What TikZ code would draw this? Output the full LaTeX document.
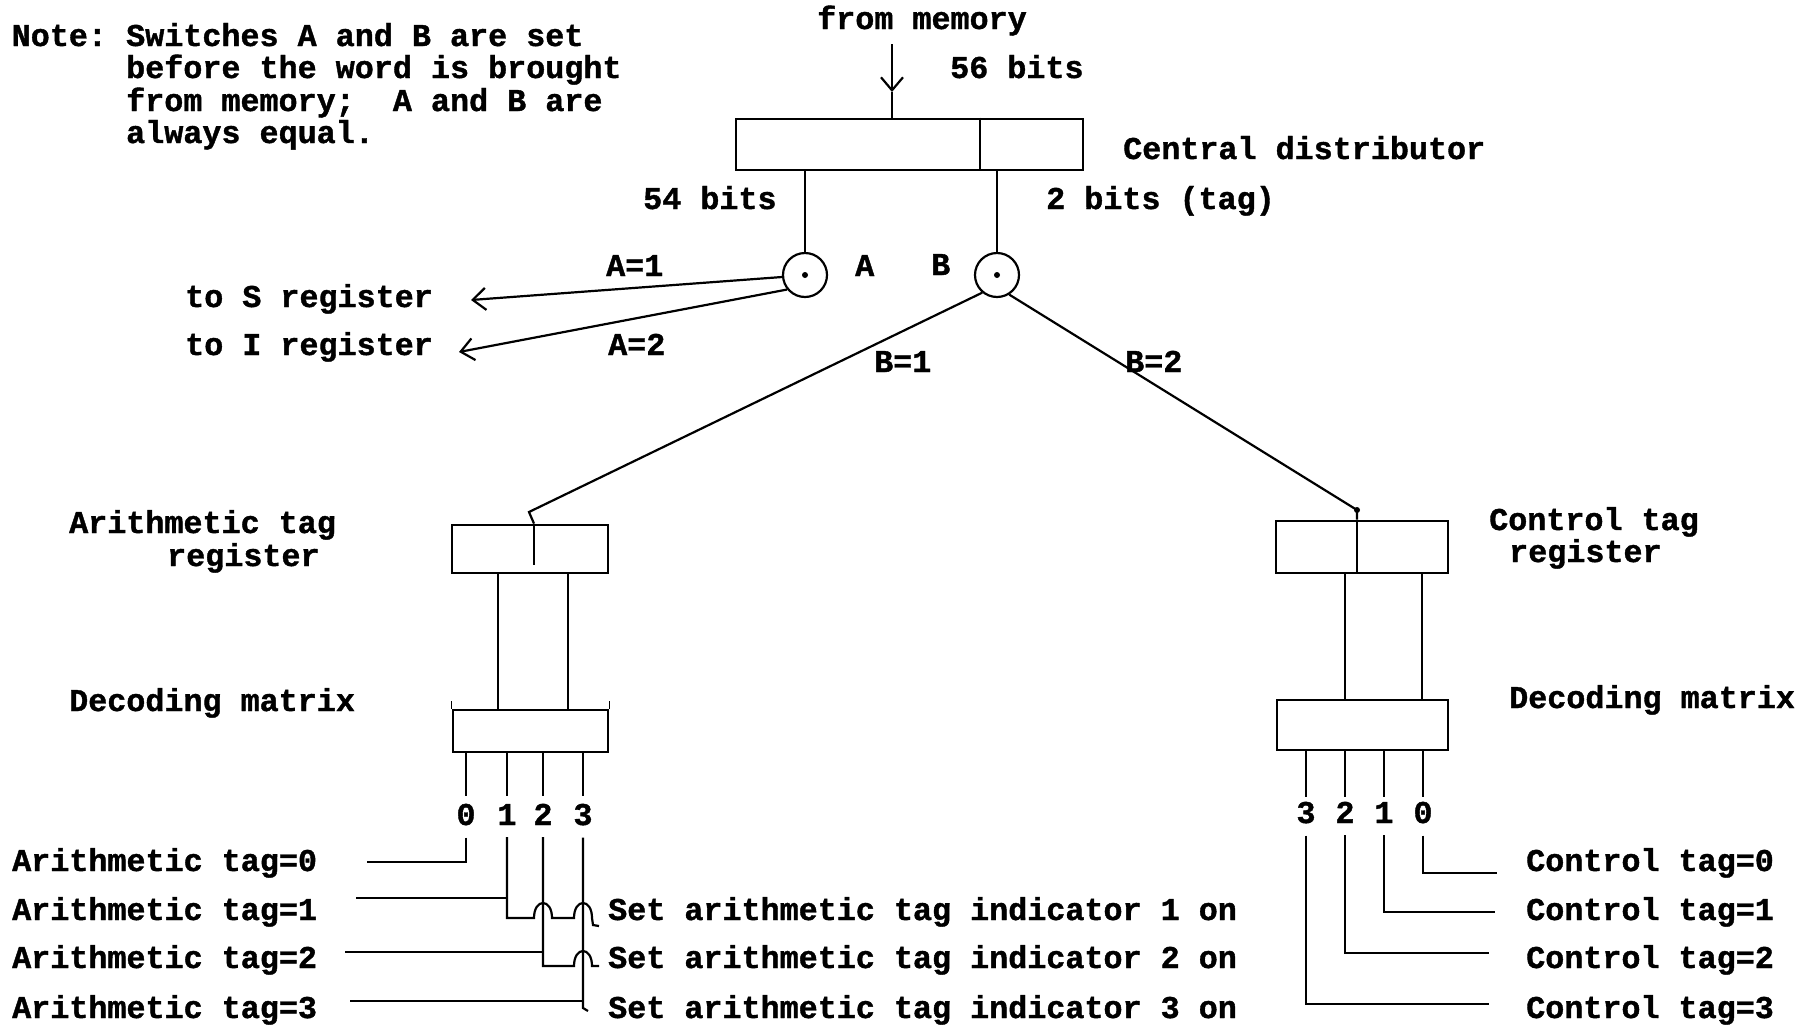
\documentclass[tikz,border=0pt]{standalone}
\usepackage{fontspec}
\newfontfamily\tw{Liberation Mono Bold}[FakeBold=1.2]
\usetikzlibrary{arrows.meta}
\begin{document}
\frenchspacing
\begin{tikzpicture}[x=1pt,y=-1pt,
  lbl/.style={anchor=base west, inner sep=0pt, font={\tw\fontsize{31.75}{34}\selectfont}},
  dig/.style={anchor=base, inner sep=0pt, font={\tw\fontsize{31.75}{34}\selectfont}},
  regbox/.style={draw, rectangle, inner sep=0pt, line width=2.8pt},
  sw/.style={draw, circle, inner sep=0pt, minimum size=44pt, line width=2.2pt},
  wire/.style={line width=2.2pt},
  arr/.style={line width=2.2pt, -{Straight Barb[length=13pt,width=22pt,line width=2.2pt]}}
]
\useasboundingbox (0,0) rectangle (1810,1026);
\fill[white] (0,0) rectangle (1810,1026);

% ---- note
\node[lbl] (n1) at (11.5,46) {Note:};
\node[lbl] (n2) at (126,46) {Switches A and B are set};
\node[lbl] (n3) at (126,78) {before the word is brought};
\node[lbl] (n4) at (126,111) {from memory;~~A and B are};
\node[lbl] (n5) at (126,143) {always equal.};

% ---- central distributor
\node[lbl] (fmt) at (817,29) {from memory};
\node[lbl] (b56) at (950,78) {56 bits};
\node[regbox, minimum width=347pt, minimum height=51pt] (cd) at (909.5,144.5) {};
\coordinate (cdiv) at (980,0);
\draw[line width=2.2pt] (cdiv |- cd.north) -- (cdiv |- cd.south);
\node[lbl] (cdl) at (1123,159) {Central distributor};
\coordinate (fm) at (892,44);
\coordinate (fa) at (892,92);
\draw[arr] (fm) -- (fa);
\draw[wire] (fa) -- (fa |- cd.north);

\node[lbl] (b54) at (643,209) {54 bits};
\node[lbl] (b2) at (1046,209) {2 bits (tag)};

% ---- switches
\node[sw] (A) at (805,275) {};
\node[sw] (B) at (997,275) {};
\fill (A) circle[radius=3pt];
\fill (B) circle[radius=3pt];
\draw[wire] (cd.south -| A) -- (A.north);
\draw[wire] (cd.south -| B) -- (B.north);
\node[lbl] (la) at (855,276) {A};
\node[lbl] (lb) at (931,275) {B};
\node[lbl] (a1l) at (606,276) {A=1};
\node[lbl] (a2l) at (608,355) {A=2};
\node[lbl] (tos) at (185,307) {to S register};
\node[lbl] (toi) at (185,355) {to I register};
\coordinate (sa) at (471,300);
\coordinate (ia) at (459,352);
\draw[arr] (A.185) -- (sa);
\draw[arr] (A.219) -- (ia);

\node[lbl] (b1l) at (874,372) {B=1};
\node[lbl] (b2l) at (1125,372) {B=2};

% ---- arithmetic side
\node[regbox, minimum width=156pt, minimum height=48pt] (AR) at (530,549) {};
\coordinate (adiv) at (534,0);
\draw[line width=2.2pt] (adiv |- AR.north) -- (534,565);
\node[lbl] (arl1) at (69,533) {Arithmetic tag};
\node[lbl] (arl2) at (167,566) {register};
\coordinate (bt1) at (529,512);
\draw[wire] (B.230) -- (bt1) -- (adiv |- AR.north);

\node[regbox, minimum width=155pt, minimum height=42pt] (AM) at (530.5,731) {};
\node[lbl] (aml) at (69,711) {Decoding matrix};
\draw[wire] (AR.south -| 498,0) -- (AM.north -| 498,0);
\draw[wire] (AR.south -| 568,0) -- (AM.north -| 568,0);
\draw[line width=1.6pt] (AM.north west) -- ++(0,-8);
\draw[line width=1.6pt] (AM.north east) -- ++(0,-8);

\node[dig] (a0) at (466,825) {0};
\node[dig] (a1) at (507,825) {1};
\node[dig] (a2) at (543,825) {2};
\node[dig] (a3) at (583,825) {3};
\foreach \x in {466,507,543,583}
  \draw[wire] (AM.south -| \x,0) -- (\x,796);

\node[lbl] (at0) at (12,871) {Arithmetic tag=0};
\node[lbl] (at1) at (12,920) {Arithmetic tag=1};
\node[lbl] (at2) at (12,968) {Arithmetic tag=2};
\node[lbl] (at3) at (12,1018) {Arithmetic tag=3};
\node[lbl] (s1) at (608,920) {Set arithmetic tag indicator 1 on};
\node[lbl] (s2) at (608,968) {Set arithmetic tag indicator 2 on};
\node[lbl] (s3) at (608,1018) {Set arithmetic tag indicator 3 on};

\coordinate (r0) at (367,862);
\coordinate (r1) at (356,898);
\coordinate (r2) at (345,952);
\coordinate (r3) at (350,1001);
\draw[wire] ([yshift=-12pt]a0.south) |- (r0);
\draw[wire] ([yshift=-12pt]a1.south) -- (507,918) -- (534,918)
   .. controls (534,898) and (552,898) .. (552,918) -- (574,918)
   .. controls (574,898) and (592,898) .. (592,918) -- (593,925) -- (599,926);
\draw[wire] (r1) -- (507,898);
\draw[wire] ([yshift=-12pt]a2.south) -- (543,966) -- (574,966)
   .. controls (574,946) and (592,946) .. (592,966) -- (599,966);
\draw[wire] (r2) -- (543,952);
\draw[wire] ([yshift=-12pt]a3.south) -- (583,1008) -- (588,1011);
\draw[wire] (r3) -- (583,1001);

% ---- control side
\node[regbox, minimum width=172pt, minimum height=52pt] (CR) at (1362,547) {};
\coordinate (cdv) at (1357,0);
\draw[line width=2.2pt] (cdv |- CR.north) -- (cdv |- CR.south);
\node[lbl] (crl1) at (1489,530) {Control tag};
\node[lbl] (crl2) at (1509,562) {register};
\coordinate (bt2) at (1357,510);
\draw[wire] (B.302) -- (bt2) -- (cdv |- CR.north);
\fill (bt2) circle[radius=3pt];

\node[regbox, minimum width=171pt, minimum height=50pt] (CM) at (1362.5,725) {};
\node[lbl] (cml) at (1509,708) {Decoding matrix};
\draw[wire] (CR.south -| 1345,0) -- (CM.north -| 1345,0);
\draw[wire] (CR.south -| 1422,0) -- (CM.north -| 1422,0);

\node[dig] (c3) at (1306,823) {3};
\node[dig] (c2) at (1345,823) {2};
\node[dig] (c1) at (1384,823) {1};
\node[dig] (c0) at (1423,823) {0};
\foreach \x in {1306,1345,1384,1423}
  \draw[wire] (CM.south -| \x,0) -- (\x,797);

\node[lbl] (ct0) at (1526,871) {Control tag=0};
\node[lbl] (ct1) at (1526,920) {Control tag=1};
\node[lbl] (ct2) at (1526,968) {Control tag=2};
\node[lbl] (ct3) at (1526,1018) {Control tag=3};
\coordinate (e0) at (1497,873);
\coordinate (e1) at (1495,912);
\coordinate (e2) at (1489,953);
\coordinate (e3) at (1489,1004);
\draw[wire] ([yshift=-12pt]c0.south) |- (e0);
\draw[wire] ([yshift=-12pt]c1.south) |- (e1);
\draw[wire] ([yshift=-12pt]c2.south) |- (e2);
\draw[wire] ([yshift=-12pt]c3.south) |- (e3);
\end{tikzpicture}
\end{document}
